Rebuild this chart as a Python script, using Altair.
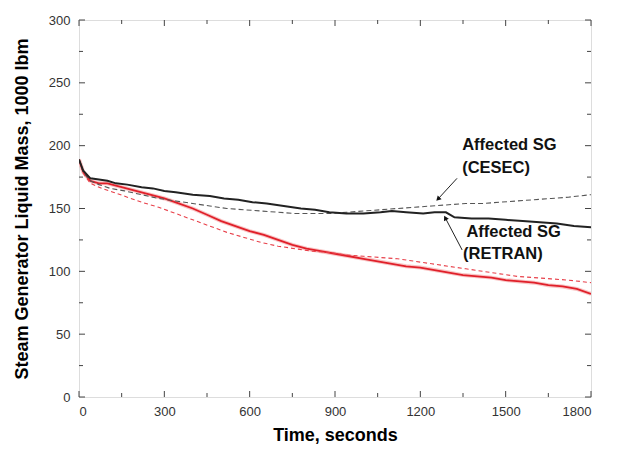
import altair as alt
import pandas as pd

# ---- data ----
retran_t = [0, 15, 40, 70, 100, 130, 170, 220, 260, 300, 340, 400, 460, 510, 560, 610, 660, 720, 780, 830, 880, 940, 1000, 1060, 1100, 1150, 1210, 1250, 1290, 1320, 1380, 1440, 1500, 1560, 1620, 1680, 1740, 1800]
retran_v = [189, 180, 174, 173, 172, 170, 169, 167, 166, 164, 163, 161, 160, 158, 157, 155, 154, 152, 150, 149, 147, 146, 146, 147, 148, 147, 146, 147, 147, 143, 142, 142, 141, 140, 139, 138, 136, 135]

cesec_t = [0, 15, 40, 70, 110, 160, 220, 280, 340, 400, 460, 520, 580, 640, 700, 760, 820, 880, 940, 1000, 1060, 1120, 1180, 1240, 1300, 1360, 1420, 1480, 1540, 1600, 1660, 1720, 1800]
cesec_v = [189, 179, 172, 169, 166, 164, 161, 158, 156, 154, 152, 150, 149, 148, 147, 146, 146, 146, 147, 148, 149, 150, 151, 152, 153, 154, 154, 155, 156, 157, 158, 159, 161]

red_t = [0, 15, 40, 70, 100, 150, 200, 250, 300, 350, 400, 450, 500, 550, 600, 650, 700, 750, 800, 850, 900, 950, 1000, 1050, 1100, 1150, 1200, 1250, 1300, 1350, 1400, 1450, 1500, 1550, 1600, 1650, 1700, 1750, 1800]
red_v = [189, 179, 172, 170, 170, 167, 164, 161, 158, 154, 150, 145, 140, 136, 132, 129, 125, 121, 118, 116, 114, 112, 110, 108, 106, 104, 103, 101, 99, 97, 96, 95, 93, 92, 91, 89, 88, 86, 82]

redd_t = [0, 15, 40, 80, 120, 170, 220, 280, 340, 400, 460, 520, 580, 640, 700, 760, 820, 880, 940, 1000, 1060, 1120, 1180, 1240, 1300, 1360, 1420, 1480, 1540, 1600, 1660, 1720, 1800]
redd_v = [189, 178, 170, 166, 163, 159, 155, 151, 146, 141, 136, 131, 127, 123, 120, 118, 116, 115, 113, 112, 111, 110, 108, 106, 104, 102, 100, 98, 96, 95, 94, 93, 91]

x_major = [0, 300, 600, 900, 1200, 1500, 1800]
x_minor = [150, 450, 750, 1050, 1350, 1650]
y_major = [0, 50, 100, 150, 200, 250, 300]
y_minor = [25, 75, 125, 175, 225, 275]

W, H = 512, 377
FONT = "Liberation Sans"

xs = alt.Scale(domain=[0, 1800], nice=False, zero=False)
ys = alt.Scale(domain=[0, 300], nice=False)

def line(t, v, color, width, dash=None, opacity=1.0):
    df = pd.DataFrame({"t": t, "v": v})
    kw = dict(color=color, strokeWidth=width, opacity=opacity, clip=True)
    if dash:
        kw["strokeDash"] = dash
    return alt.Chart(df).mark_line(**kw).encode(
        x=alt.X("t:Q", scale=xs,
                axis=alt.Axis(values=x_major, format="d", title="Time, seconds", tickSize=0,
                              labelFont=FONT, labelFontSize=13, labelColor="#333",
                              labelPadding=8, titleFont=FONT, titleFontSize=18,
                              titleFontWeight="bold", titlePadding=8, domain=False,
                              grid=False)),
        y=alt.Y("v:Q", scale=ys,
                axis=alt.Axis(values=y_major, format="d",
                              title="Steam Generator Liquid Mass, 1000 lbm",
                              tickSize=0, labelFont=FONT, labelFontSize=13,
                              labelColor="#333", labelPadding=9, titleFont=FONT,
                              titleFontSize=18, titleFontWeight="bold", titlePadding=17,
                              domain=False, grid=False)),
    )

layers = [
    line(red_t, red_v, "#f4a0a0", 4, opacity=0.6),
    line(red_t, red_v, "#e0202a", 1.8),
    line(redd_t, redd_v, "#e8404a", 1.1, dash=[4, 3]),
    line(cesec_t, cesec_v, "#555555", 1.1, dash=[5, 3]),
    line(retran_t, retran_v, "#222222", 2),
]

# inward ticks drawn as rules
def xticks(vals, length):
    df = pd.DataFrame({"t": vals})
    b = alt.Chart(df).mark_rule(color="#444", strokeWidth=1).encode(
        x=alt.X("t:Q", scale=xs), y=alt.value(H), y2=alt.value(H - length))
    t = alt.Chart(df).mark_rule(color="#444", strokeWidth=1).encode(
        x=alt.X("t:Q", scale=xs), y=alt.value(0), y2=alt.value(length))
    return [b, t]

def yticks(vals, length):
    df = pd.DataFrame({"v": vals})
    l = alt.Chart(df).mark_rule(color="#444", strokeWidth=1).encode(
        y=alt.Y("v:Q", scale=ys), x=alt.value(0), x2=alt.value(length))
    r = alt.Chart(df).mark_rule(color="#444", strokeWidth=1).encode(
        y=alt.Y("v:Q", scale=ys), x=alt.value(W), x2=alt.value(W - length))
    return [l, r]

ticks = xticks(x_major, 6) + xticks(x_minor, 4) + yticks(y_major, 6) + yticks(y_minor, 4)

def label(txt, t, v):
    return alt.Chart(pd.DataFrame({"a": [0]})).mark_text(
        text=txt, font=FONT, fontSize=16.5, fontWeight="bold", align="left",
        baseline="middle", color="#111").encode(
        x=alt.datum(t, scale=xs), y=alt.datum(v, scale=ys))

texts = [
    label("Affected SG", 1347, 200.5),
    label("(CESEC)", 1347, 182),
    label("Affected SG", 1362, 131),
    label("(RETRAN)", 1350, 113.5),
]

def arrow(t0, v0, t1, v1, angle):
    df = pd.DataFrame({"t0": [t0], "v0": [v0], "t1": [t1], "v1": [v1]})
    shaft = alt.Chart(df).mark_rule(color="#222", strokeWidth=1).encode(
        x=alt.X("t0:Q", scale=xs), y=alt.Y("v0:Q", scale=ys),
        x2="t1:Q", y2="v1:Q")
    head = alt.Chart(df).mark_point(shape="triangle", filled=True, size=30,
                                    color="#111", angle=angle, opacity=1).encode(
        x=alt.X("t1:Q", scale=xs), y=alt.Y("v1:Q", scale=ys))
    return [shaft, head]

arrows = arrow(1329, 174, 1264, 158, 225) + arrow(1347, 117, 1289, 142, 332)

chart = alt.layer(*layers, *ticks, *texts, *arrows).properties(
    width=W, height=H,
    autosize=alt.AutoSizeParams(type="none"),
    padding={"left": 71, "top": 12, "right": 22, "bottom": 52},
).configure_view(stroke="#333", strokeWidth=1.2).configure(background="white")

chart.save("out.html", embed_options={"renderer": "svg", "actions": False})
